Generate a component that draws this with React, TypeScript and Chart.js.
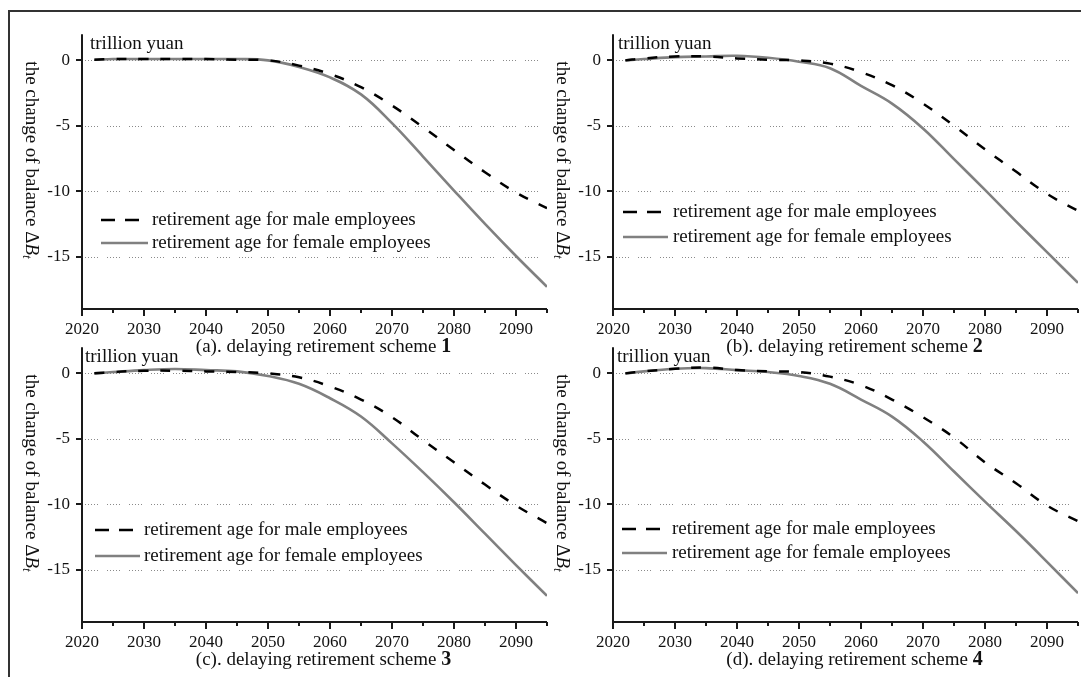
import React, { useEffect, useRef } from 'react';
import { Chart, registerables } from 'chart.js';

Chart.register(...registerables);

// ---------- data ----------
const YEARS = [2022, 2025, 2030, 2035, 2040, 2045, 2050, 2055, 2060, 2065, 2070, 2075, 2080, 2085, 2090, 2095];

const MALE_A = [0.05, 0.1, 0.1, 0.1, 0.1, 0.05, 0.0, -0.4, -1.05, -2.05, -3.45, -5.1, -6.85, -8.55, -10.1, -11.3];
const FEMALE_A = [0.05, 0.1, 0.1, 0.1, 0.1, 0.1, 0.0, -0.5, -1.3, -2.6, -4.8, -7.35, -9.95, -12.5, -14.95, -17.3];
const MALE_B = [0.0, 0.15, 0.3, 0.3, 0.15, 0.05, 0.0, -0.25, -0.9, -1.9, -3.3, -5.0, -6.8, -8.5, -10.2, -11.5];
const FEMALE_B = [0.0, 0.1, 0.25, 0.3, 0.35, 0.2, -0.1, -0.6, -1.95, -3.3, -5.2, -7.55, -9.9, -12.3, -14.65, -17.0];
const MALE_C = [0.0, 0.1, 0.2, 0.2, 0.15, 0.1, 0.0, -0.3, -1.0, -2.0, -3.35, -5.1, -6.8, -8.5, -10.1, -11.45];
const FEMALE_C = [0.0, 0.1, 0.25, 0.33, 0.25, 0.15, -0.2, -0.8, -1.9, -3.3, -5.35, -7.55, -9.85, -12.25, -14.65, -17.0];
const MALE_D = [0.0, 0.15, 0.35, 0.45, 0.25, 0.15, 0.1, -0.25, -0.9, -2.0, -3.35, -4.9, -6.8, -8.4, -10.1, -11.3];
const FEMALE_D = [0.0, 0.15, 0.35, 0.4, 0.25, 0.1, -0.2, -0.8, -2.0, -3.3, -5.2, -7.5, -9.8, -12.05, -14.4, -16.8];

const MALE_SERIES = [MALE_A, MALE_B, MALE_C, MALE_D];
const FEMALE_SERIES = [FEMALE_A, FEMALE_B, FEMALE_C, FEMALE_D];

const X_TICKS = [2020, 2030, 2040, 2050, 2060, 2070, 2080, 2090];
const X_MINOR_TICKS = [2025, 2035, 2045, 2055, 2065, 2075, 2085, 2095];
const Y_TICKS = [0, -5, -10, -15];
const X_MIN = 2020;
const X_MAX = 2095;
const Y_MIN = -19;
const Y_MAX = 2;

const PANEL_LETTERS = ['a', 'b', 'c', 'd'];
const SCHEME_NUMBERS = ['1', '2', '3', '4'];
const LEGEND_LABELS = ['retirement age for male employees', 'retirement age for female employees'];
const UNIT_LABEL = 'trillion yuan';
const Y_TITLE = 'the change of balance Δ';
const Y_TITLE_VAR = 'B';
const Y_TITLE_SUB = 't';

// ---------- styling / layout ----------
const FONT = '"Liberation Serif", "Times New Roman", Times, serif';
const CANVAS_W = 540;
const CANVAS_H = 352;
const X_AXIS_H = 55;
const COL_STEP = 531;
const ROW_STEP = 313;

// per-panel small offsets (canvas coords)
const LEGEND_POS = [
  { male: 208, female: 231, x0: 91, x1: 138, tx: 142 },
  { male: 200, female: 225, x0: 82, x1: 127, tx: 132 },
  { male: 205, female: 231, x0: 85, x1: 130, tx: 134 },
  { male: 204, female: 228, x0: 81, x1: 126, tx: 131 },
];
const UNIT_OFFSET = [8, 5, 3, 4];

function decoPlugin(idx: number) {
  return {
    id: 'deco' + idx,
    beforeDatasetsDraw(chart: any) {
      const { ctx, chartArea: ca, scales } = chart;
      const y = scales.y;
      ctx.save();
      ctx.strokeStyle = '#8a8a8a';
      ctx.lineWidth = 1;
      ctx.setLineDash([1, 2, 1, 2, 1, 2, 1, 2, 1, 9]);
      for (const v of Y_TICKS) {
        const py = Math.round(y.getPixelForValue(v)) + 0.5;
        ctx.beginPath();
        ctx.moveTo(ca.left + 3, py);
        ctx.lineTo(ca.right, py);
        ctx.stroke();
      }
      ctx.restore();
    },
    afterDraw(chart: any) {
      const { ctx, chartArea: ca, scales } = chart;
      const x = scales.x;
      const y = scales.y;
      ctx.save();
      // axes
      ctx.strokeStyle = '#1a1a1a';
      ctx.lineWidth = 2;
      ctx.setLineDash([]);
      ctx.beginPath();
      ctx.moveTo(ca.left, ca.top);
      ctx.lineTo(ca.left, ca.bottom + 1);
      ctx.moveTo(ca.left - 1, ca.bottom);
      ctx.lineTo(ca.right, ca.bottom);
      ctx.stroke();
      // ticks
      ctx.beginPath();
      for (const v of X_TICKS) {
        const px = Math.round(x.getPixelForValue(v));
        ctx.moveTo(px, ca.bottom);
        ctx.lineTo(px, ca.bottom + 7);
      }
      for (const v of X_MINOR_TICKS) {
        const px = Math.round(x.getPixelForValue(v));
        ctx.moveTo(px, ca.bottom);
        ctx.lineTo(px, ca.bottom + 4);
      }
      for (const v of Y_TICKS) {
        const py = Math.round(y.getPixelForValue(v));
        ctx.moveTo(ca.left, py);
        ctx.lineTo(ca.left - 6, py);
      }
      ctx.stroke();

      ctx.fillStyle = '#111';
      ctx.textBaseline = 'middle';
      // unit label
      ctx.font = `19px ${FONT}`;
      ctx.textAlign = 'left';
      ctx.fillText(UNIT_LABEL, ca.left + UNIT_OFFSET[idx], ca.top + 10);

      // legend
      const lp = LEGEND_POS[idx];
      ctx.lineWidth = 2.5;
      ctx.strokeStyle = '#000';
      ctx.setLineDash([14, 10]);
      ctx.beginPath();
      ctx.moveTo(lp.x0, lp.male);
      ctx.lineTo(lp.x1, lp.male);
      ctx.stroke();
      ctx.setLineDash([]);
      ctx.strokeStyle = '#808080';
      ctx.beginPath();
      ctx.moveTo(lp.x0, lp.female);
      ctx.lineTo(lp.x1, lp.female);
      ctx.stroke();
      ctx.fillText(LEGEND_LABELS[0], lp.tx, lp.male);
      ctx.fillText(LEGEND_LABELS[1], lp.tx, lp.female);

      // y title (rotated clockwise)
      ctx.save();
      ctx.translate(21, 148);
      ctx.rotate(Math.PI / 2);
      const fMain = `19px ${FONT}`;
      const fIt = `italic 19px ${FONT}`;
      const fSub = `italic 13px ${FONT}`;
      ctx.font = fMain;
      const w1 = ctx.measureText(Y_TITLE).width;
      ctx.font = fIt;
      const w2 = ctx.measureText(Y_TITLE_VAR).width;
      ctx.font = fSub;
      const w3 = ctx.measureText(Y_TITLE_SUB).width;
      let sx = -(w1 + w2 + w3) / 2;
      ctx.textAlign = 'left';
      ctx.font = fMain;
      ctx.fillText(Y_TITLE, sx, 0);
      sx += w1;
      ctx.font = fIt;
      ctx.fillText(Y_TITLE_VAR, sx, 0);
      sx += w2;
      ctx.font = fSub;
      ctx.fillText(Y_TITLE_SUB, sx, 5);
      ctx.restore();

      // subtitle
      const main = `(${PANEL_LETTERS[idx]}). delaying retirement scheme `;
      const num = SCHEME_NUMBERS[idx];
      ctx.font = `19px ${FONT}`;
      const m1 = ctx.measureText(main).width;
      ctx.font = `bold 20px ${FONT}`;
      const m2 = ctx.measureText(num).width;
      const cx = (ca.left + ca.right) / 2 + 9;
      const tx = cx - (m1 + m2) / 2;
      const ty = ca.bottom + 38;
      ctx.textAlign = 'left';
      ctx.font = `19px ${FONT}`;
      ctx.fillText(main, tx, ty);
      ctx.font = `bold 20px ${FONT}`;
      ctx.fillText(num, tx + m1, ty);
      ctx.restore();
    },
  };
}

function Panel({ idx }: { idx: number }) {
  const ref = useRef<HTMLCanvasElement | null>(null);
  useEffect(() => {
    if (!ref.current) return;
    const male = MALE_SERIES[idx];
    const female = FEMALE_SERIES[idx];
    const chart = new Chart(ref.current, {
      type: 'line',
      data: {
        datasets: [
          {
            label: LEGEND_LABELS[0],
            data: YEARS.map((yr, i) => ({ x: yr, y: male[i] })),
            borderColor: '#000',
            borderWidth: 2.5,
            borderDash: [10, 12],
            pointRadius: 0,
            fill: false,
            tension: 0.4,
          },
          {
            label: LEGEND_LABELS[1],
            data: YEARS.map((yr, i) => ({ x: yr, y: female[i] })),
            borderColor: '#808080',
            borderWidth: 2.6,
            pointRadius: 0,
            fill: false,
            tension: 0.4,
          },
        ],
      },
      options: {
        animation: false,
        responsive: false,
        maintainAspectRatio: false,
        events: [],
        layout: { padding: { top: 20, right: 3, left: 0, bottom: 0 } },
        plugins: { legend: { display: false }, tooltip: { enabled: false }, title: { display: false } },
        scales: {
          x: {
            type: 'linear',
            min: X_MIN,
            max: X_MAX,
            grid: { display: false, drawTicks: false },
            border: { display: false },
            ticks: {
              font: { family: FONT, size: 17 },
              color: '#111',
              padding: 10,
              maxRotation: 0,
              autoSkip: false,
              callback: (v: any) => String(v),
            },
            afterBuildTicks: (s: any) => {
              s.ticks = X_TICKS.map((v) => ({ value: v }));
            },
            afterFit: (s: any) => {
              s.height = X_AXIS_H;
            },
          },
          y: {
            type: 'linear',
            min: Y_MIN,
            max: Y_MAX,
            grid: { display: false, drawTicks: false },
            border: { display: false },
            ticks: {
              font: { family: FONT, size: 17 },
              color: '#111',
              padding: 12,
              autoSkip: false,
              callback: (v: any) => String(v),
            },
            afterBuildTicks: (s: any) => {
              s.ticks = Y_TICKS.map((v) => ({ value: v }));
            },
            afterFit: (s: any) => {
              s.width = 72;
            },
          },
        },
      },
      plugins: [decoPlugin(idx)],
    } as any);
    return () => chart.destroy();
  }, [idx]);
  const col = idx % 2;
  const row = Math.floor(idx / 2);
  return (
    <canvas
      ref={ref}
      width={CANVAS_W}
      height={CANVAS_H}
      style={{
        position: 'absolute',
        left: 10 + col * COL_STEP,
        top: 12 + row * ROW_STEP,
        width: CANVAS_W,
        height: CANVAS_H,
      }}
    />
  );
}

export default function App() {
  return (
    <div
      style={{
        position: 'absolute',
        left: 0,
        top: 0,
        width: 1081,
        height: 677,
        overflow: 'hidden',
        background: '#fff',
      }}
    >
      <div
        style={{
          position: 'absolute',
          left: 8,
          top: 10,
          width: 1200,
          height: 800,
          border: '2px solid #333',
          boxSizing: 'border-box',
        }}
      />
      {[0, 1, 2, 3].map((i) => (
        <Panel key={i} idx={i} />
      ))}
    </div>
  );
}
